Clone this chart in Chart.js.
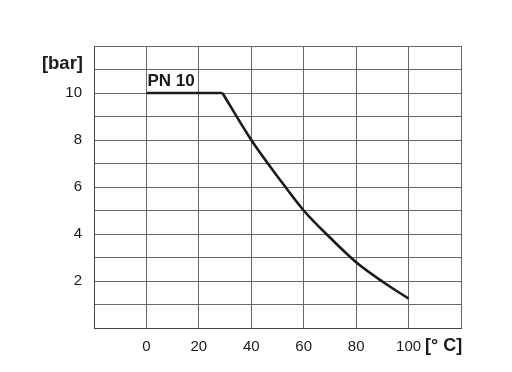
<!DOCTYPE html>
<html>
<head>
<meta charset="utf-8">
<script src="https://cdn.jsdelivr.net/npm/chart.js@4"></script>
<style>
  body { margin: 0; background: #fff; }
</style>
</head>
<body>
<canvas id="grafico" width="512" height="372"></canvas>
<script>
// PN 10 pressure / temperature curve
const tempFlat = [0, 29];
const pressFlat = [10, 10];
const tempCurve = [29, 40, 50, 60, 70, 80, 90, 100];
const pressCurve = [10, 8, 6.45, 5, 3.85, 2.8, 1.98, 1.25];
const xLabels = [0, 20, 40, 60, 80, 100];
const yLabels = [2, 4, 6, 8, 10];

const fonte = "'Liberation Sans', Arial, sans-serif";

function pontos(xs, ys) {
    return xs.map((x, i) => ({ x: x, y: ys[i] }));
}

// textos extras: [bar], [° C], PN 10
const textos = {
    id: 'textos',
    afterDraw(chart) {
        const ctx = chart.ctx;
        const sx = chart.scales.x;
        const sy = chart.scales.y;
        ctx.save();
        ctx.fillStyle = '#1a1a1a';
        ctx.font = 'bold 18.5px ' + fonte;
        ctx.textAlign = 'right';
        ctx.textBaseline = 'middle';
        ctx.fillText('[bar]', 83, 64);
        ctx.font = 'bold 18px ' + fonte;
        ctx.textAlign = 'left';
        ctx.fillText('[° C]', 425, 346);
        ctx.font = 'bold 17px ' + fonte;
        ctx.textBaseline = 'alphabetic';
        ctx.fillText('PN 10', sx.getPixelForValue(0.4), sy.getPixelForValue(10) - 7);
        ctx.restore();
    }
};

const ctx = document.getElementById('grafico').getContext('2d');
new Chart(ctx, {
    type: 'line',
    data: {
        datasets: [
            {
                data: pontos(tempFlat, pressFlat),
                borderColor: '#1a1a1a',
                borderWidth: 2.6,
                pointRadius: 0,
                tension: 0
            },
            {
                data: pontos(tempCurve, pressCurve),
                borderColor: '#1a1a1a',
                borderWidth: 2.6,
                pointRadius: 0,
                cubicInterpolationMode: 'monotone'
            }
        ]
    },
    options: {
        responsive: false,
        animation: false,
        layout: { padding: { top: 46, right: 51, left: 0, bottom: 0 } },
        plugins: { legend: { display: false }, tooltip: { enabled: false } },
        scales: {
            x: {
                type: 'linear',
                min: -20,
                max: 120,
                afterFit: s => { s.height = 44; },
                ticks: {
                    stepSize: 20,
                    padding: 10,
                    color: '#1a1a1a',
                    font: { family: fonte, size: 15 },
                    callback: v => xLabels.includes(v) ? String(v) : ''
                },
                grid: { color: '#666', lineWidth: 1, drawTicks: false },
                border: { color: '#444', width: 1 }
            },
            y: {
                min: 0,
                max: 12,
                afterFit: s => { s.width = 94; },
                ticks: {
                    stepSize: 1,
                    padding: 12,
                    color: '#1a1a1a',
                    font: { family: fonte, size: 15 },
                    callback: v => yLabels.includes(v) ? String(v) : ''
                },
                grid: { color: '#666', lineWidth: 1, drawTicks: false },
                border: { color: '#444', width: 1 }
            }
        }
    },
    plugins: [textos]
});
</script>
</body>
</html>
